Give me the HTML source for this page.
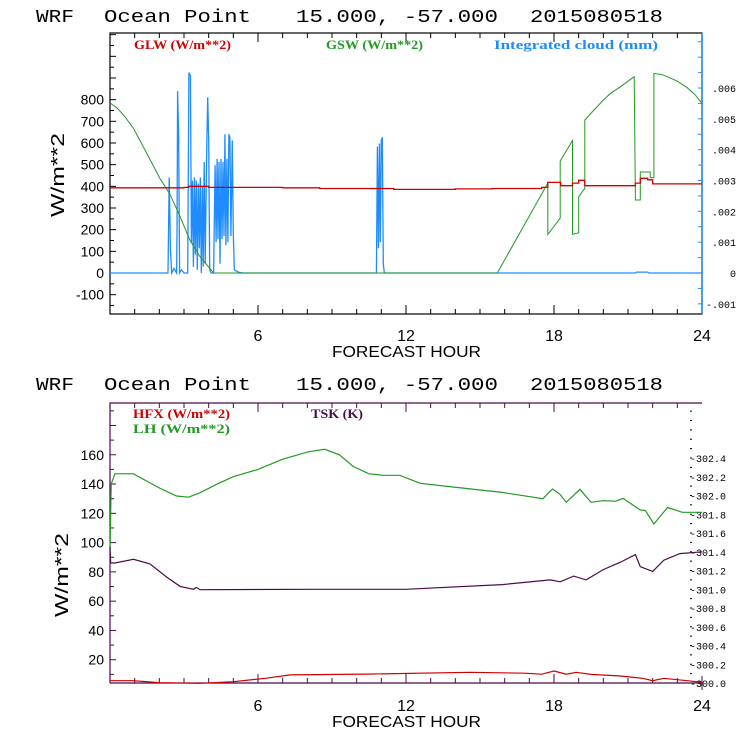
<!DOCTYPE html>
<html><head><meta charset="utf-8"><style>
html,body{margin:0;padding:0;background:#fff;}
svg{display:block;}
text{font-family:"Liberation Sans",sans-serif;}
.mono{font-family:"Liberation Mono",monospace;}
.leg{font-family:"Liberation Serif",serif;font-weight:bold;font-size:13px;}
</style></head><body>
<svg id="chart" width="740" height="740" viewBox="0 0 740 740" xmlns="http://www.w3.org/2000/svg">
<g id="topPanel"></g>
<g id="botPanel"></g>
</svg>
<script>
// ---- data ----
const xTicks = [6, 12, 18, 24];
const topLeftTicks = [-100, 0, 100, 200, 300, 400, 500, 600, 700, 800];
const topRightTicks = [-0.001, 0, 0.001, 0.002, 0.003, 0.004, 0.005, 0.006];
const topRightLabels = ["-.001", "0", ".001", ".002", ".003", ".004", ".005", ".006"];
const glwHours = [0, 3.0, 3.2, 4.0, 7.0, 8.5, 11.5, 14.0, 15.5, 17.5, 17.75, 18.27, 18.75, 19.0, 19.25, 21.3, 21.5, 21.8, 22.0, 24];
const glwValues = [393, 395, 400, 395, 393, 390, 386, 388, 390, 395, 418, 403, 415, 428, 403, 415, 437, 430, 411, 411];
const gswHours = [0, 0.3, 0.6, 0.95, 1.49, 2.03, 2.43, 2.84, 3.24, 3.65, 4.2, 15.7, 17.75, 17.75, 18.25, 18.25, 18.75, 18.75, 19.0, 19.0, 19.25, 19.25, 19.6, 20.0, 20.3, 20.7, 21.0, 21.25, 21.3, 21.5, 21.5, 21.9, 21.9, 22.05, 22.05, 22.4, 22.7, 23.0, 23.4, 23.7, 24];
const gswValues = [785, 760, 722, 668, 552, 435, 364, 260, 152, 75, 0, 0, 415, 178, 253, 517, 611, 179, 185, 352, 391, 706, 750, 798, 830, 860, 885, 906, 337, 337, 466, 466, 440, 440, 921, 915, 901, 885, 855, 825, 783];
const cloudHours = [0,2.35,2.40,2.45,2.50,2.60,2.70,2.72,2.74,2.78,2.82,2.90,3.0,3.15,3.20,3.26,3.30,3.34,3.38,3.42,3.46,3.50,3.54,3.58,3.62,3.66,3.70,3.74,3.78,3.82,3.86,3.92,3.96,4.00,4.04,4.10,4.20,4.26,4.30,4.34,4.38,4.42,4.46,4.50,4.54,4.58,4.62,4.66,4.70,4.74,4.78,4.82,4.86,4.90,4.96,5.00,5.04,5.2,5.4,10.80,10.84,10.88,10.92,10.96,11.00,11.04,11.08,11.12,21.3,21.35,21.8,21.85,24];
const cloudValues = [0,0,0.0031,0.0008,0,0.00015,0,0.0017,0.0059,0.0045,0,0.0001,0,0,0.0065,0.0064,0.001,0.0030,0.0002,0.0031,0.0006,0.0030,0.0001,0.0029,0.0008,0.0031,0,0.0028,0.0002,0.0036,0.0003,0.0040,0.0057,0.0043,0.0001,0,0,0.0035,0.0010,0.0037,0.0011,0.0036,0.0003,0.0037,0.0011,0.0036,0.0012,0.0045,0.0009,0.0037,0.0010,0.0045,0.0044,0.0012,0.0043,0.0013,0.0001,0.00003,0,0,0.0041,0.0008,0.0042,0.0010,0.0043,0.0044,0.0003,0,0,0.00003,0.00003,0,0];

const botLeftTicks = [20, 40, 60, 80, 100, 120, 140, 160];
const botRightTicks = [300.0, 300.2, 300.4, 300.6, 300.8, 301.0, 301.2, 301.4, 301.6, 301.8, 302.0, 302.2, 302.4];
const lhHours = [0, 0.05, 0.2, 0.95, 2.03, 2.7, 3.18, 3.65, 4.32, 5.0, 6.0, 7.0, 8.04, 8.7, 9.3, 9.86, 10.5, 11.08, 11.75, 12.57, 13.9, 15.9, 17.55, 17.94, 18.24, 18.5, 19.05, 19.5, 20.0, 20.5, 20.8, 21.5, 21.7, 22.05, 22.6, 23.2, 24];
const lhValues = [95, 140, 147, 147, 137, 131.8, 131, 134, 139.8, 145, 150, 157, 162, 163.7, 160, 152, 147, 146, 146, 140.5, 138, 134.3, 130, 136.6, 133, 127.5, 136.4, 127.5, 128.6, 128.3, 130.2, 122.3, 122, 112.7, 124, 120.7, 120.7];
const tskHours = [0, 0.03, 0.2, 0.95, 1.62, 2.3, 2.84, 3.38, 3.5, 3.65, 8.0, 12.0, 12.8, 15.9, 17.85, 18.25, 18.8, 19.3, 20.0, 20.7, 21.3, 21.5, 22.0, 22.45, 23.1, 24];
const tskValues = [301.45, 301.28, 301.28, 301.32, 301.27, 301.13, 301.03, 301.0, 301.02, 300.995, 301.0, 301.0, 301.01, 301.05, 301.10, 301.08, 301.14, 301.10, 301.21, 301.29, 301.37, 301.24, 301.19, 301.31, 301.38, 301.40];
const hfxHours = [0, 0.95, 1.3, 2.03, 3.65, 5.0, 6.3, 7.3, 10.4, 14.6, 16.8, 17.5, 18.0, 18.5, 18.9, 19.5, 20.7, 21.6, 22.0, 22.45, 23.4, 24];
const hfxValues = [5.7, 5.7, 5.2, 4.3, 3.9, 5, 7.3, 9.6, 10.2, 11.4, 10.8, 10.1, 12.3, 10.1, 11.4, 10, 8.9, 7.3, 5.7, 7.3, 5.7, 4.6];

// ---- geometry ----
const NS = "http://www.w3.org/2000/svg";
const X0 = 110, X1 = 702;
const xS = h => X0 + h * (X1 - X0) / 24;
const tY = v => 273 - v * 0.21667;
const tYR = c => 273 - c * 30833;
const bY = v => 689 - v * 1.464;
const bYR = t => 683 - (t - 300) * 93.75;

function mk(parent, tag, attrs, text) {
  const e = document.createElementNS(NS, tag);
  for (const k in attrs) e.setAttribute(k, attrs[k]);
  if (text !== undefined) e.textContent = text;
  parent.appendChild(e);
  return e;
}
function pts(hs, vs, fy) { return hs.map((h, i) => xS(h).toFixed(1) + "," + fy(vs[i]).toFixed(1)).join(" "); }
function stepPts(hs, vs, fy) {
  const a = [];
  for (let i = 0; i < hs.length; i++) {
    if (i > 0) a.push(xS(hs[i]).toFixed(1) + "," + fy(vs[i - 1]).toFixed(1));
    a.push(xS(hs[i]).toFixed(1) + "," + fy(vs[i]).toFixed(1));
  }
  return a.join(" ");
}

const gTop = document.getElementById("topPanel");
const gBot = document.getElementById("botPanel");

function title(g, y, name) {
  const t = mk(g, "text", { x: 36, y: y, "font-size": 18, class: "mono", fill: "#000" });
  
  
  const parts = [["WRF", 36, 38], ["Ocean Point", 104, 147], ["15.000, -57.000", 296, 202], ["2015080518", 530, 133]];
  parts.forEach(p => mk(t, "tspan", { x: p[1], textLength: p[2], lengthAdjust: "spacingAndGlyphs" }, p[0]));
}
function xAxis(g, yTop, yBot, col, tickY, titleY) {
  for (let h = 1; h < 24; h++) {
    const len = (h % 6 === 0) ? 9 : 5;
    mk(g, "line", { x1: xS(h), x2: xS(h), y1: yBot, y2: yBot - len, stroke: col, "stroke-width": 1 });
    mk(g, "line", { x1: xS(h), x2: xS(h), y1: yTop, y2: yTop + len, stroke: col, "stroke-width": 1 });
  }
  xTicks.forEach(h => {
    const t = mk(g, "text", { x: xS(h), y: tickY, "font-size": 16, "text-anchor": "middle", fill: "#000" }, String(h));
    
    
  });
  const xt = mk(g, "text", { x: 332, y: titleY, "font-size": 16, textLength: 149, lengthAdjust: "spacingAndGlyphs", fill: "#000" }, "FORECAST HOUR");
  
  
}
function yTitle(g, cx, cy) {
  const t = mk(g, "text", { x: cx, y: cy, "font-size": 18, "text-anchor": "middle", transform: `rotate(-90 ${cx} ${cy})`, textLength: 84, lengthAdjust: "spacingAndGlyphs", fill: "#000" }, "W/m**2");
  
  
}

// ===== TOP PANEL =====
title(gTop, 22, "top-title");
mk(gTop, "rect", { x: X0, y: 33, width: X1 - X0, height: 281, fill: "none", stroke: "#000", "stroke-width": 1.2 });
mk(gTop, "line", { x1: X1, x2: X1, y1: 33, y2: 314, stroke: "#1e8cff", "stroke-width": 1.5 });
xAxis(gTop, 33, 314, "#000", 341, 357);
for (let v = -150; v <= 1100; v += 50) {
  const y = tY(v); if (y < 34 || y > 313) continue;
  mk(gTop, "line", { x1: X0, x2: X0 + (v % 100 === 0 ? 6 : 4), y1: y, y2: y, stroke: "#000" });
}
topLeftTicks.forEach(v => {
  const t = mk(gTop, "text", { x: 104, y: tY(v) + 5, "font-size": 14, "text-anchor": "end", fill: "#000" }, String(v));
  
  
});
for (let c = -0.0015; c <= 0.0078; c += 0.0005) {
  const y = tYR(c); if (y < 34 || y > 313) continue;
  mk(gTop, "line", { x1: X1, x2: X1 - 4, y1: y, y2: y, stroke: "#1e8cff" });
}
topRightTicks.forEach((c, i) => {
  const t = mk(gTop, "text", { x: 736, y: tYR(c) + 4, "font-size": 10, class: "mono", "text-anchor": "end", fill: "#000" }, topRightLabels[i]);
  
  
});
yTitle(gTop, 64, 175);
let s = mk(gTop, "polyline", { points: pts(cloudHours, cloudValues, tYR), fill: "none", stroke: "#1e8cff", "stroke-width": 1.3 });


s = mk(gTop, "polyline", { points: pts(gswHours, gswValues, tY), fill: "none", stroke: "#229922", "stroke-width": 1 });


s = mk(gTop, "polyline", { points: stepPts(glwHours, glwValues, tY), fill: "none", stroke: "#d00000", "stroke-width": 1.3 });


let l = mk(gTop, "text", { x: 134, y: 49, class: "leg", fill: "#d00000", textLength: 97, lengthAdjust: "spacingAndGlyphs" }, "GLW (W/m**2)");
 
l = mk(gTop, "text", { x: 326, y: 49, class: "leg", fill: "#229922", textLength: 97, lengthAdjust: "spacingAndGlyphs" }, "GSW (W/m**2)");
 
l = mk(gTop, "text", { x: 494, y: 49, class: "leg", fill: "#1e8cff", textLength: 164, lengthAdjust: "spacingAndGlyphs" }, "Integrated cloud (mm)");
 

// ===== BOTTOM PANEL =====
const P = "#4b0a4b";
title(gBot, 390, "bottom-title");
mk(gBot, "polyline", { points: `${X0},683 ${X0},403 ${X1},403`, fill: "none", stroke: P, "stroke-width": 1.2 });
mk(gBot, "line", { x1: X0, x2: X1, y1: 683, y2: 683, stroke: P, "stroke-width": 1.2 });
mk(gBot, "line", { x1: X1, x2: X1, y1: 676, y2: 690, stroke: P, "stroke-width": 1 });
xAxis(gBot, 403, 683, P, 711, 727);
for (let v = 10; v <= 190; v += 10) {
  const y = bY(v); if (y < 404) continue;
  mk(gBot, "line", { x1: X0, x2: X0 + (v % 20 === 0 ? 6 : 4), y1: y, y2: y, stroke: P });
}
botLeftTicks.forEach(v => {
  const t = mk(gBot, "text", { x: 104, y: bY(v) + 5, "font-size": 14, "text-anchor": "end", fill: "#000" }, String(v));
  
  
});
for (let k = 1; k <= 29; k++) {
  const y = bYR(300 + k * 0.1); if (y < 404) continue;
  mk(gBot, "line", { x1: 690, x2: 692, y1: y, y2: y, stroke: "#000" });
}
botRightTicks.forEach(t0 => {
  const t = mk(gBot, "text", { x: 690, y: bYR(t0) + 4, "font-size": 10, class: "mono", fill: "#000" }, "-" + t0.toFixed(1));
  
  
});
yTitle(gBot, 68, 575);
s = mk(gBot, "polyline", { points: pts(hfxHours, hfxValues, bY), fill: "none", stroke: "#d00000", "stroke-width": 1.2 });


s = mk(gBot, "polyline", { points: pts(lhHours, lhValues, bY), fill: "none", stroke: "#229922", "stroke-width": 1.2 });


s = mk(gBot, "polyline", { points: pts(tskHours, tskValues, bYR), fill: "none", stroke: P, "stroke-width": 1.2 });


l = mk(gBot, "text", { x: 133, y: 418, class: "leg", fill: "#d00000", textLength: 97, lengthAdjust: "spacingAndGlyphs" }, "HFX (W/m**2)");
 
l = mk(gBot, "text", { x: 133, y: 433, class: "leg", fill: "#229922", textLength: 97, lengthAdjust: "spacingAndGlyphs" }, "LH  (W/m**2)");
 
l = mk(gBot, "text", { x: 311, y: 418, class: "leg", fill: P, textLength: 52, lengthAdjust: "spacingAndGlyphs" }, "TSK (K)");
 
</script>
</body></html>
